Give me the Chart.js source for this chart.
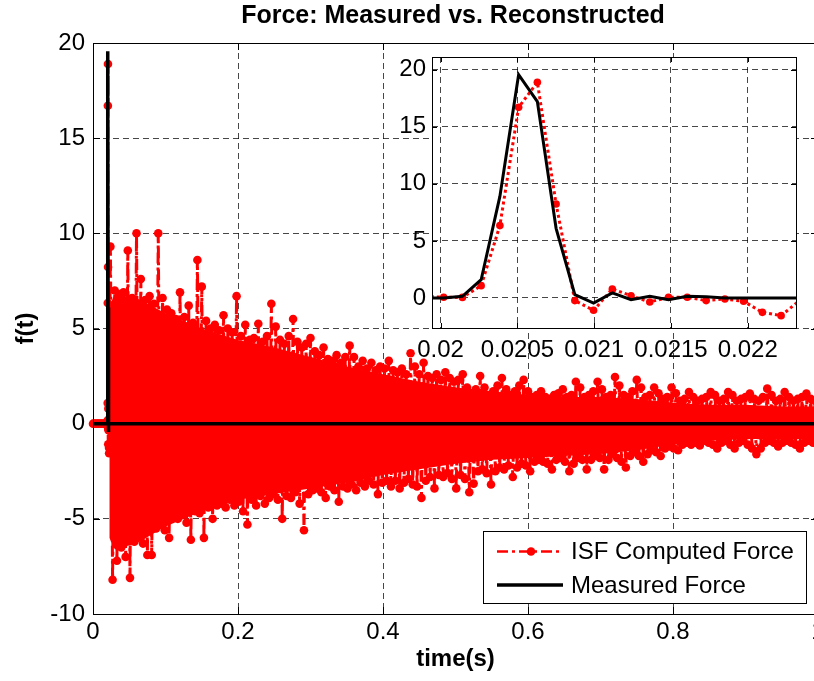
<!DOCTYPE html>
<html><head><meta charset="utf-8">
<script src="https://cdn.jsdelivr.net/npm/chart.js@4.4.1/dist/chart.umd.min.js"></script>
<style>
html,body{margin:0;padding:0;overflow:hidden;background:#fff;width:814px;height:681px;}
#wrap{position:relative;width:814px;height:681px;overflow:hidden;background:#fff;}
#main{position:absolute;left:0;top:0;}
#inset{position:absolute;left:380px;top:30px;}
</style></head><body>
<div id="wrap">
<canvas id="main" width="830" height="681" style="width:830px;height:681px"></canvas>
<canvas id="inset" width="434" height="340" style="width:434px;height:340px"></canvas>
</div>
<script>
const FONT = "'Liberation Sans', Arial, Helvetica, sans-serif";
const chartTitle = 'Force: Measured vs. Reconstructed';
const xLabel = 'time(s)';
const yLabel = 'f(t)';
const seriesNames = ['ISF Computed Force', 'Measured Force'];

const mainXTicks = [0, 0.2, 0.4, 0.6, 0.8, 1];
const mainXTickLabels = ['0', '0.2', '0.4', '0.6', '0.8', '1'];
const mainYTicks = [-10, -5, 0, 5, 10, 15, 20];
const insetXTicks = [0.02, 0.0205, 0.021, 0.0215, 0.022];
const insetXTickLabels = ['0.02', '0.0205', '0.021', '0.0215', '0.022'];
const insetYTicks = [0, 5, 10, 15, 20];

// quiet part before the impact
const preT = [0, 0.002, 0.004, 0.006, 0.008, 0.010, 0.012, 0.014, 0.016, 0.018];
const preRed = [0, 0, 0, 0, 0, 0, 0, 0, 0, 0];
const preBlack = [0, 0, 0, 0, 0, 0, 0, 0, 0, 0];

// impact pulse samples (shown in the inset)
const pulseT = [0.019897, 0.020020, 0.020142, 0.020264, 0.020386, 0.020508, 0.020630,
  0.020752, 0.020874, 0.020996, 0.021118, 0.021240, 0.021362, 0.021484, 0.021606,
  0.021729, 0.021851, 0.021973, 0.022095, 0.022217, 0.022339];
const pulseRed = [0.15, 0.06, 0.05, 1.08, 6.34, 16.7, 18.9, 8.23, -0.23, -1.08, 0.79,
  0.2, -0.35, 0.06, 0.06, -0.23, -0.09, -0.29, -1.26, -1.55, -0.2];
const pulseBlack = [0, 0, 0.15, 1.6, 8.9, 19.56, 17.2, 6.1, 0.3, -0.44, 0.44,
  -0.15, 0.15, -0.15, 0.15, 0.1, 0, 0, 0, 0, 0];

// reconstructed force after the pulse: successive upper and lower peaks
const capStart = 0.024, capStep = 0.006, lowOffset = 0.003;
const upperPeaks = [
  9.3, 7.0, 6.8, 6.9, 9.1, 6.6, 10.0, 7.6, 6.5, 6.7, 6.3, 10.0, 6.6,
  6.0, 5.8, 5.5, 6.9, 5.6, 6.2, 5.3, 8.6, 7.2, 5.4, 5.0, 5.2, 4.9, 5.7, 5.0, 4.8, 6.7,
  4.6, 5.2, 4.4, 4.5, 5.25, 4.3, 4.6, 6.3, 5.1, 4.4, 4.2, 4.6, 5.5, 4.3, 4.0, 4.2, 4.5,
  3.8, 3.6, 4.0, 3.4, 3.3, 3.6, 3.2, 3.5, 4.1, 3.5, 3.0, 3.3, 2.9, 3.2, 2.8, 3.0, 2.9,
  3.3, 2.8, 2.7, 2.9, 2.6, 3.7, 3.0, 2.6, 3.2, 2.5, 2.4, 2.6, 2.3, 2.7, 2.4, 2.2, 2.3,
  2.6, 1.9, 1.6, 1.8, 2.5, 1.9, 1.5, 1.7, 2.0, 2.4, 1.8, 1.5, 1.7, 2.0, 2.3, 1.7, 1.4,
  1.5, 1.7, 1.4, 1.3, 1.5, 1.6, 1.8, 1.4, 1.5, 2.2, 1.9, 1.4, 1.5, 1.7, 2.2, 1.8, 1.4,
  1.5, 2.45, 2.0, 1.5, 1.4, 1.7, 2.3, 1.9, 1.4, 1.5, 1.9, 1.6, 1.3, 1.4, 1.9, 1.6, 1.2,
  1.3, 1.66, 1.4, 1.2, 1.3, 1.4, 1.66, 1.5, 1.2, 1.3, 1.66, 1.5, 1.2, 1.3, 1.4, 1.58, 1.3,
  1.2, 1.4, 1.84, 1.5, 1.2, 1.3, 1.66, 1.4, 1.2, 1.3, 1.4, 1.58, 1.3, 1.2];
const lowerPeaks = [
  -8.2, -7.2, -6.5, -7.0, -8.1, -6.2, -5.8, -6.3, -6.9, -6.9, -5.5, -5.2, -5.6,
  -6.0, -4.9, -5.0, -4.8, -5.2, -6.1, -4.6, -4.7, -6.0, -4.4, -5.0, -4.3, -4.2, -4.4, -4.0, -4.3, -4.1,
  -4.6, -5.3, -4.0, -4.3, -3.8, -4.2, -3.9, -3.7, -4.0, -5.0, -3.8, -3.9, -3.6, -4.2, -5.6, -3.7, -3.5,
  -3.4, -3.6, -3.9, -3.3, -3.5, -4.1, -3.3, -3.4, -3.2, -3.5, -3.1, -3.3, -3.0, -3.2, -3.7, -3.1, -3.0,
  -3.3, -3.0, -3.4, -3.1, -2.9, -3.2, -3.3, -3.9, -3.0, -2.8, -3.4, -2.7, -2.8, -2.6, -2.9, -3.4, -2.7,
  -2.9, -3.6, -3.15, -2.5, -2.4, -2.6, -3.2, -2.5, -2.3, -2.4, -2.2, -2.8, -2.3, -2.1, -2.2, -2.5, -2.0,
  -1.9, -2.0, -2.1, -2.4, -1.9, -1.8, -2.0, -2.5, -2.1, -1.8, -1.9, -2.4, -1.9, -1.7, -1.8, -2.4, -1.9,
  -1.6, -1.8, -2.0, -2.3, -1.7, -1.5, -1.7, -2.0, -1.6, -1.4, -1.5, -1.7, -1.3, -1.2, -1.3, -1.4, -1.1,
  -1.0, -1.1, -1.0, -1.15, -0.9, -1.0, -1.1, -1.3, -1.0, -0.9, -1.1, -1.3, -1.0, -0.9, -1.1, -1.3, -1.6,
  -1.3, -1.0, -0.9, -1.0, -1.2, -1.0, -0.9, -1.0, -1.1, -1.3, -1.0, -0.9, -1.0, -1.1];

// the densely packed (solid-looking) core of the reconstructed oscillation
const coreT  = [0.0225, 0.03, 0.06, 0.1, 0.15, 0.2, 0.25, 0.3, 0.35, 0.4, 0.45,
  0.5, 0.55, 0.6, 0.65, 0.7, 0.75, 0.8, 0.85, 0.9, 0.95, 1.0];
const coreHi = [6.2, 6.8, 6.6, 5.8, 5.0, 4.4, 4.0, 3.5, 3.0, 2.6, 2.2,
  1.9, 1.7, 1.5, 1.4, 1.4, 1.3, 1.1, 1.0, 1.0, 0.9, 0.9];
const coreLo = [-6.0, -6.6, -6.3, -5.4, -4.6, -4.0, -3.7, -3.4, -3.1, -2.7, -2.4,
  -2.1, -1.9, -1.8, -1.7, -1.6, -1.4, -1.1, -0.9, -0.8, -0.8, -0.8];

// measured force after the pulse
const tailBlackT = [0.0235, 0.2, 0.4, 0.6, 0.8, 1.0];
const tailBlack = [0, 0, 0, 0, 0, 0];

// ---- build point tables from the arrays ----
const pts = (ts, vs) => ts.map((t, i) => ({x: t, y: vs[i]}));
const redMain = [...pts(preT, preRed), ...pts(pulseT, pulseRed)];
upperPeaks.forEach((u, k) => {
  redMain.push({x: capStart + capStep * k, y: u});
  redMain.push({x: capStart + capStep * k + lowOffset, y: lowerPeaks[k]});
});
const blackMain = [...pts(preT, preBlack), ...pts(pulseT, pulseBlack), ...pts(tailBlackT, tailBlack)];

const RED = '#ff0000';
const GRID = 'rgba(0,0,0,0.72)';

const frameTicks = {
  id: 'frameTicks',
  beforeDraw(chart, args, opts) {
    if (!opts.fillWhite) return;
    const {ctx, chartArea: a} = chart;
    ctx.save(); ctx.fillStyle = '#fff';
    ctx.fillRect(a.left, a.top, a.right - a.left, a.bottom - a.top);
    ctx.restore();
  },
  afterDatasetsDraw(chart, args, opts) {
    const {ctx, chartArea: a, scales: {x, y}} = chart;
    const L = opts.length || 6;
    ctx.save();
    ctx.strokeStyle = '#000'; ctx.lineWidth = 1; ctx.setLineDash([]);
    ctx.beginPath();
    x.ticks.forEach(t => {
      const p = Math.round(x.getPixelForValue(t.value)) + 0.5;
      ctx.moveTo(p, a.bottom); ctx.lineTo(p, a.bottom - L);
      ctx.moveTo(p, a.top); ctx.lineTo(p, a.top + L);
    });
    y.ticks.forEach(t => {
      const p = Math.round(y.getPixelForValue(t.value)) + 0.5;
      ctx.moveTo(a.left, p); ctx.lineTo(a.left + L, p);
      ctx.moveTo(a.right, p); ctx.lineTo(a.right - L, p);
    });
    ctx.stroke();
    ctx.strokeRect(Math.round(a.left) + 0.5, Math.round(a.top) + 0.5,
      Math.round(a.right - a.left), Math.round(a.bottom - a.top));
    ctx.restore();
  }
};

const decorations = {
  id: 'decorations',
  afterDraw(chart) {
    const ctx = chart.ctx;
    ctx.save();
    // title
    ctx.fillStyle = '#000';
    ctx.font = 'bold 25px ' + FONT;
    ctx.textAlign = 'center'; ctx.textBaseline = 'alphabetic';
    ctx.fillText(chartTitle, 453, 23);
    // legend
    ctx.fillStyle = '#fff';
    ctx.fillRect(483.5, 531.5, 323, 72);
    ctx.strokeStyle = '#000'; ctx.lineWidth = 1;
    ctx.strokeRect(483.5, 531.5, 323, 72);
    ctx.strokeStyle = RED; ctx.lineWidth = 2.5; ctx.setLineDash([11, 4, 3, 4]);
    ctx.beginPath(); ctx.moveTo(497, 551.5); ctx.lineTo(563, 551.5); ctx.stroke();
    ctx.setLineDash([]);
    ctx.fillStyle = RED;
    ctx.beginPath(); ctx.arc(531, 551.5, 4.3, 0, Math.PI * 2); ctx.fill();
    ctx.strokeStyle = '#000'; ctx.lineWidth = 3.5;
    ctx.beginPath(); ctx.moveTo(497, 585); ctx.lineTo(563, 585); ctx.stroke();
    ctx.fillStyle = '#000';
    ctx.font = '24px ' + FONT;
    ctx.textAlign = 'left'; ctx.textBaseline = 'middle';
    ctx.fillText(seriesNames[0], 571, 552);
    ctx.fillText(seriesNames[1], 571, 586);
    ctx.restore();
  }
};

Chart.defaults.font.family = FONT;
Chart.defaults.color = '#000';

new Chart(document.getElementById('main'), {
  type: 'line',
  data: {
    datasets: [
      {label: seriesNames[1], data: blackMain, borderColor: '#000', borderWidth: 3.5,
        pointRadius: 0, tension: 0, clip: 5},
      {label: seriesNames[0], data: redMain, borderColor: RED, borderWidth: 3,
        borderDash: [11, 4, 3, 4], pointRadius: 4.3, pointBackgroundColor: RED,
        pointBorderWidth: 0, tension: 0, clip: 5},
      {label: 'core-hi', data: pts(coreT, coreHi), borderWidth: 0, borderColor: RED,
        backgroundColor: RED, pointRadius: 0, fill: '+1', tension: 0},
      {label: 'core-lo', data: pts(coreT, coreLo), borderWidth: 0, borderColor: RED,
        backgroundColor: RED, pointRadius: 0, fill: false, tension: 0}
    ]
  },
  plugins: [frameTicks, decorations],
  options: {
    responsive: false, animation: false, events: [],
    layout: {padding: {left: 0, right: 12, top: 43, bottom: 0}},
    plugins: {legend: {display: false}, tooltip: {enabled: false},
      filler: {propagate: false},
      frameTicks: {length: 7, fillWhite: false}},
    scales: {
      x: {
        type: 'linear', min: 0, max: 1,
        afterBuildTicks: s => { s.ticks = mainXTicks.map(v => ({value: v})); },
        afterFit: s => { s.height = 67; },
        ticks: {callback: (v, i) => mainXTickLabels[i], font: {size: 24}, color: '#000',
          padding: 4, maxRotation: 0, autoSkip: false},
        grid: {color: GRID, lineWidth: 1, drawTicks: false},
        border: {display: false, dash: [6, 4]},
        title: {display: true, text: xLabel, font: {size: 24, weight: 'bold'}, color: '#000',
          padding: {top: 0, bottom: 7}}
      },
      y: {
        type: 'linear', min: -10, max: 20,
        afterBuildTicks: s => { s.ticks = mainYTicks.map(v => ({value: v})); },
        afterFit: s => { s.width = 93; },
        ticks: {callback: v => String(v), font: {size: 24}, color: '#000', padding: 8, autoSkip: false},
        grid: {color: GRID, lineWidth: 1, drawTicks: false},
        border: {display: false, dash: [6, 4]},
        title: {display: true, text: yLabel, font: {size: 24, weight: 'bold'}, color: '#000',
          padding: {top: 12, bottom: 0}}
      }
    }
  }
});

new Chart(document.getElementById('inset'), {
  type: 'line',
  data: {
    datasets: [
      {label: seriesNames[1], data: pts(pulseT, pulseBlack), borderColor: '#000', borderWidth: 3,
        pointRadius: 0, tension: 0},
      {label: seriesNames[0], data: pts(pulseT, pulseRed), borderColor: RED, borderWidth: 3,
        borderDash: [3, 3], pointRadius: 3.8, pointBackgroundColor: RED, pointBorderWidth: 0, tension: 0}
    ]
  },
  plugins: [frameTicks],
  options: {
    responsive: false, animation: false, events: [],
    layout: {padding: {left: 0, right: 18, top: 27, bottom: 0}},
    plugins: {legend: {display: false}, tooltip: {enabled: false},
      frameTicks: {length: 5, fillWhite: true}},
    scales: {
      x: {
        type: 'linear', min: 0.019944, max: 0.022314,
        afterBuildTicks: s => { s.ticks = insetXTicks.map(v => ({value: v})); },
        afterFit: s => { s.height = 42; },
        ticks: {callback: (v, i) => insetXTickLabels[i], font: {size: 24}, color: '#000',
          padding: 8, maxRotation: 0, autoSkip: false},
        grid: {color: GRID, lineWidth: 1, drawTicks: false},
        border: {display: false, dash: [6, 4]}
      },
      y: {
        type: 'linear', min: -2.63, max: 21.11,
        afterBuildTicks: s => { s.ticks = insetYTicks.map(v => ({value: v})); },
        afterFit: s => { s.width = 52; },
        ticks: {callback: v => String(v), font: {size: 24}, color: '#000', padding: 6, autoSkip: false},
        grid: {color: GRID, lineWidth: 1, drawTicks: false},
        border: {display: false, dash: [6, 4]}
      }
    }
  }
});
</script>
</body></html>
